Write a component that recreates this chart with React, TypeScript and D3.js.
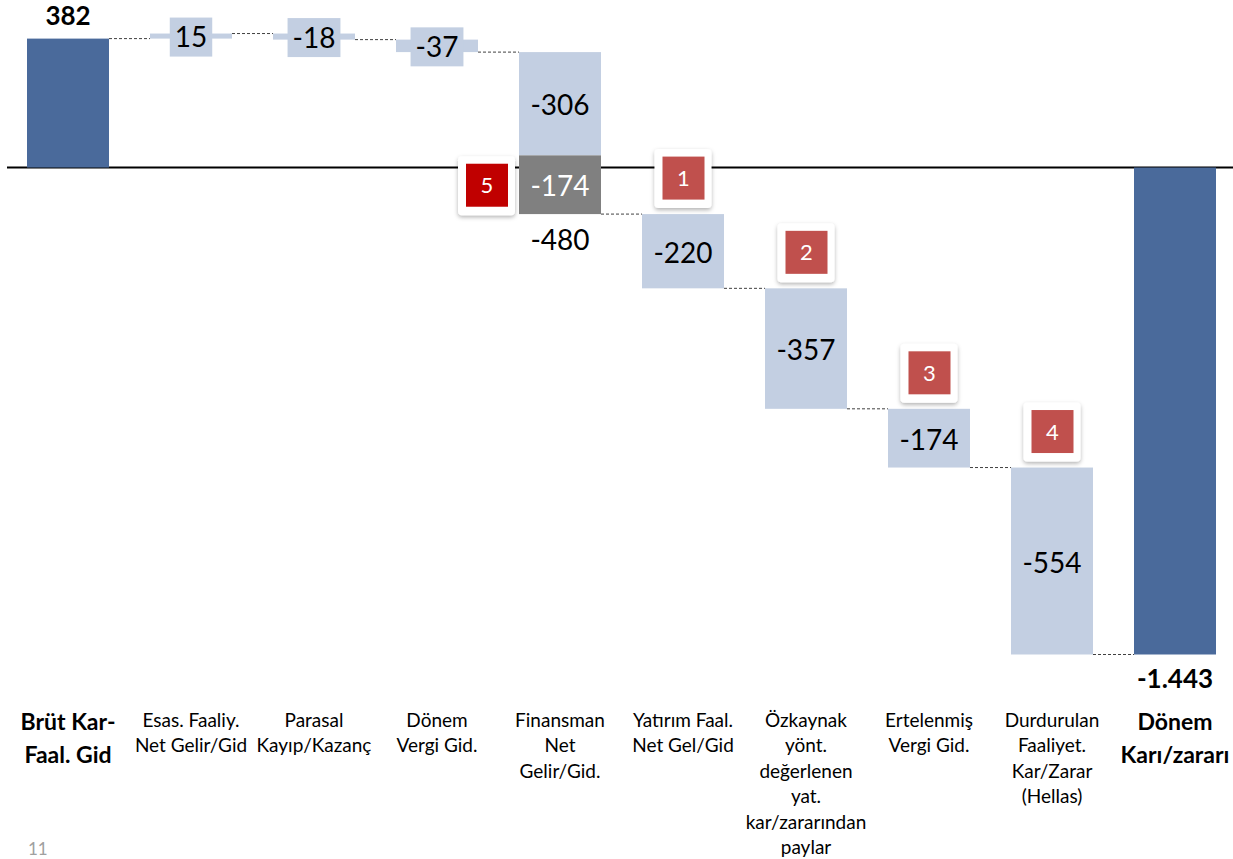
import React from "react";
import * as d3 from "d3";

const categories: string[][] = [
  ["Brüt Kar-", "Faal. Gid"],
  ["Esas. Faaliy.", "Net Gelir/Gid"],
  ["Parasal", "Kayıp/Kazanç"],
  ["Dönem", "Vergi Gid."],
  ["Finansman", "Net", "Gelir/Gid."],
  ["Yatırım Faal.", "Net Gel/Gid"],
  ["Özkaynak", "yönt.", "değerlenen", "yat.", "kar/zararından", "paylar"],
  ["Ertelenmiş", "Vergi Gid."],
  ["Durdurulan", "Faaliyet.", "Kar/Zarar", "(Hellas)"],
  ["Dönem", "Karı/zararı"],
];
const values = [382, 15, -18, -37, -480, -220, -357, -174, -554, -1443];
const kinds = ["total", "delta", "delta", "delta", "split", "delta", "delta", "delta", "delta", "total"];
const finansmanParts = [-306, -174];
const badgeIndex = [5, 6, 7, 8, 4];
const badgeLabels = ["1", "2", "3", "4", "5"];
const pageNumber = "11";

const W = 1233;
const H = 859;
const FONT = "Lato, 'Open Sans', sans-serif";
const DARK = "#4a6a9b";
const LIGHT = "#c3cfe2";
const GREY = "#808080";

const locale = d3.formatLocale({ decimal: ",", thousands: ".", grouping: [3], currency: ["", ""], minus: "-" });
const fmt = locale.format(",d");

function measure(text: string, font: string): number {
  if (typeof document === "undefined") return text.length * 15;
  const c = document.createElement("canvas");
  const ctx = c.getContext("2d");
  if (!ctx) return text.length * 15;
  ctx.font = font;
  return ctx.measureText(text).width;
}

export default function App() {
  const ids = categories.map((_, i) => String(i));
  const x = d3.scalePoint<string>().domain(ids).range([68, 1175]);
  const y = d3.scaleLinear().domain([-1443, 382]).range([654.5, 38.6]);
  const bw = 82;

  const segs: { i: number; y0: number; y1: number; kind: string; v: number }[] = [];
  let level = 0;
  values.forEach((v, i) => {
    if (kinds[i] === "total") {
      segs.push({ i, y0: 0, y1: v, kind: "total", v });
      level = v;
    } else {
      segs.push({ i, y0: level, y1: level + v, kind: kinds[i], v });
      level = level + v;
    }
  });

  const connectors = segs.slice(0, -1).map((s, k) => ({
    x1: (x(String(s.i)) as number) + bw / 2,
    x2: (x(String(segs[k + 1].i)) as number) - bw / 2,
    yv: s.y1,
  }));

  const elems: React.ReactNode[] = [];

  segs.forEach((s) => {
    const cx = x(String(s.i)) as number;
    const top = Math.min(y(s.y0), y(s.y1));
    const bot = Math.max(y(s.y0), y(s.y1));
    if (s.kind === "total") {
      elems.push(<rect key={"b" + s.i} x={cx - bw / 2} y={top} width={bw} height={bot - top} fill={DARK} />);
      const ty = s.v >= 0 ? top - 13.6 : bot + 33.5;
      elems.push(
        <text key={"t" + s.i} x={cx} y={ty} textAnchor="middle" fontFamily={FONT} fontWeight={700} fontSize={26} fill="#000">
          {fmt(s.v)}
        </text>
      );
    } else if (s.kind === "split") {
      let l = s.y0;
      finansmanParts.forEach((p, k) => {
        const a = y(l), b = y(l + p);
        const t = Math.min(a, b), h = Math.abs(b - a);
        elems.push(<rect key={"fs" + k} x={cx - bw / 2} y={t} width={bw} height={h} fill={k === 0 ? LIGHT : GREY} />);
        elems.push(
          <text key={"ft" + k} x={cx} y={t + h / 2 + 11} textAnchor="middle" fontFamily={FONT} fontSize={28} fill={k === 0 ? "#000" : "#fff"}>
            {fmt(p)}
          </text>
        );
        l = l + p;
      });
      elems.push(
        <text key={"ftot"} x={cx} y={bot + 36} textAnchor="middle" fontFamily={FONT} fontSize={28} fill="#000">
          {fmt(s.v)}
        </text>
      );
    } else {
      elems.push(<rect key={"b" + s.i} x={cx - bw / 2} y={top} width={bw} height={Math.max(bot - top, 1)} fill={LIGHT} />);
      const h = bot - top;
      const label = fmt(s.v);
      if (h < 40) {
        const tw = measure(label, `28px ${FONT}`);
        const boxW = tw + 10;
        const mid = (top + bot) / 2 + 1;
        elems.push(<rect key={"lb" + s.i} x={cx - boxW / 2} y={mid - 19.5} width={boxW} height={39} fill={LIGHT} />);
        elems.push(
          <text key={"t" + s.i} x={cx} y={mid + 10} textAnchor="middle" fontFamily={FONT} fontSize={28} fill="#000">
            {label}
          </text>
        );
      } else {
        elems.push(
          <text key={"t" + s.i} x={cx} y={(top + bot) / 2 + 11.5} textAnchor="middle" fontFamily={FONT} fontSize={28} fill="#000">
            {label}
          </text>
        );
      }
    }
  });

  const badges = badgeIndex.map((idx, k) => {
    const s = segs[idx];
    const cx = x(String(idx)) as number;
    let bx: number, by: number;
    if (s.kind === "split") {
      const a = y(s.y0 + finansmanParts[0]);
      const b = y(s.y1);
      bx = cx - bw / 2 - 4 - 28.5;
      by = (a + b) / 2 - 29.5 + 1;
    } else {
      bx = cx;
      by = Math.min(y(s.y0), y(s.y1)) - 6 - 59;
    }
    const red = s.kind === "split" ? "#c00000" : "#c0504d";
    return (
      <g key={"bd" + k} transform={`translate(${bx - 28.5},${by})`}>
        <rect x={0} y={0} width={57} height={59} rx={4} fill="#fff" filter="url(#shadow)" />
        <rect x={8} y={7.5} width={42} height={43} fill={red} />
        <text x={29} y={29 + 8} textAnchor="middle" fontFamily={FONT} fontSize={22} fill="#fff">
          {badgeLabels[k]}
        </text>
      </g>
    );
  });

  const catLabels = categories.map((lines, i) => {
    const cx = x(String(i)) as number;
    const bold = kinds[i] === "total";
    return (
      <text key={"c" + i} textAnchor="middle" fontFamily={FONT} fontSize={bold ? 23 : 19} fontWeight={bold ? 700 : 400} fill="#000">
        {lines.map((ln, j) => (
          <tspan key={j} x={cx} y={(bold ? 730 : 727) + j * (bold ? 33 : 25.4)}>
            {ln}
          </tspan>
        ))}
      </text>
    );
  });

  return (
    <svg width={W} height={H} style={{ position: "absolute", left: 0, top: 0, display: "block" }}>
      <defs>
        <filter id="shadow" x="-30%" y="-30%" width="160%" height="170%">
          <feDropShadow dx={0} dy={2} stdDeviation={2.2} floodColor="#000" floodOpacity={0.3} />
        </filter>
      </defs>
      <rect x={0} y={0} width={W} height={H} fill="#fff" />
      <line x1={7} x2={W} y1={y(0)} y2={y(0)} stroke="#000" strokeWidth={2} />
      {connectors.map((c, k) => (
        <line key={"cn" + k} x1={c.x1} x2={c.x2} y1={y(c.yv)} y2={y(c.yv)} stroke="#404040" strokeWidth={1} strokeDasharray="3,2" />
      ))}
      {elems}
      {badges}
      {catLabels}
      <text x={28} y={855} fontFamily={FONT} fontSize={17} fill="#a0a0a0">
        {pageNumber}
      </text>
    </svg>
  );
}
